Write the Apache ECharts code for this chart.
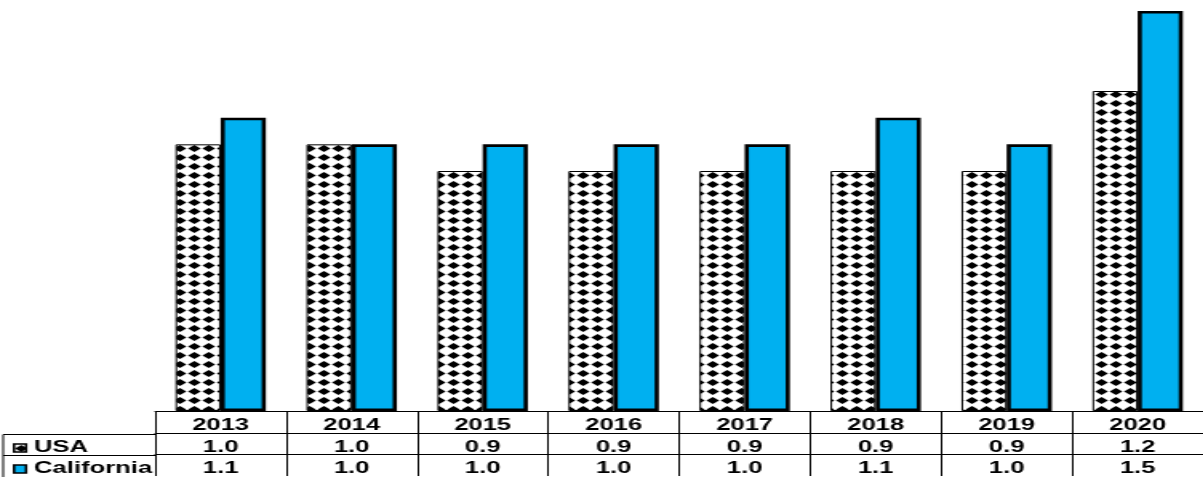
<!DOCTYPE html>
<html>
<head>
<meta charset="utf-8">
<script src="https://cdn.jsdelivr.net/npm/echarts@6/dist/echarts.min.js"></script>
<style>
html,body{margin:0;padding:0;background:#fff;overflow:hidden;}
#chart{width:752px;height:477px;transform:scaleX(1.6);transform-origin:0 0;}
</style>
</head>
<body>
<div id="chart"></div>
<script>
const years = ['2013','2014','2015','2016','2017','2018','2019','2020'];
const usa = [1.0,1.0,0.9,0.9,0.9,0.9,0.9,1.2];
const california = [1.1,1.0,1.0,1.0,1.0,1.1,1.0,1.5];
const seriesNames = ['USA','California'];

// diamond pattern tile
const tile = document.createElement('canvas');
tile.width = 9; tile.height = 9;
const ctx = tile.getContext('2d');
ctx.fillStyle = '#fff';
ctx.fillRect(0,0,9,9);
ctx.fillStyle = '#000';
ctx.beginPath();
ctx.moveTo(0.5,4.5); ctx.lineTo(4.5,1); ctx.lineTo(8.5,4.5); ctx.lineTo(4.5,8); ctx.closePath();
ctx.fill();

const font = {fontFamily:'"Liberation Sans", Arial, sans-serif', fontWeight:'bold', fontSize:16, color:'#000'};

function tableAxis(data, offset){
  return {
    type:'category', data:data, position:'bottom', offset:offset,
    axisLine:{show:true, lineStyle:{color:'#000', width:1}},
    axisTick:{show:true, length:22, lineStyle:{color:'#000', width:1}},
    axisLabel:Object.assign({margin:7, interval:0}, font)
  };
}

function legendFor(name, top){
  return {
    orient:'horizontal', left:8, top:top, padding:0, icon:'rect',
    itemWidth:7.5, itemHeight:8, itemGap:0,
    itemStyle:{borderColor:'#000', borderWidth:1.6},
    data:[name], textStyle:font
  };
}

const chart = echarts.init(document.getElementById('chart'));
chart.setOption({
  animation:false,
  grid:{left:97, right:0, top:11, bottom:65},
  legend:[legendFor(seriesNames[0], 440), legendFor(seriesNames[1], 461)],
  xAxis:[
    tableAxis(years, 0),
    tableAxis(usa.map(v=>v.toFixed(1)), 22),
    tableAxis(california.map(v=>v.toFixed(1)), 43)
  ],
  yAxis:{type:'value', min:0, max:1.5, show:false, splitLine:{show:false}},
  series:[
    {name:seriesNames[0], type:'bar', data:usa, barGap:'0%', barCategoryGap:'31%',
     itemStyle:{color:{image:tile, repeat:'repeat'}, borderColor:'#000', borderWidth:1}},
    {name:seriesNames[1], type:'bar', data:california,
     itemStyle:{color:'#00B0F0', borderColor:'#000', borderWidth:2.6}}
  ],
  graphic:[
    {type:'line', shape:{x1:2, y1:434.5, x2:97, y2:434.5}, style:{stroke:'#000', lineWidth:1}},
    {type:'line', shape:{x1:2, y1:455.5, x2:97, y2:455.5}, style:{stroke:'#000', lineWidth:1}},
    {type:'line', shape:{x1:2, y1:434.5, x2:2, y2:477}, style:{stroke:'#000', lineWidth:1}}
  ]
});
</script>
</body>
</html>
